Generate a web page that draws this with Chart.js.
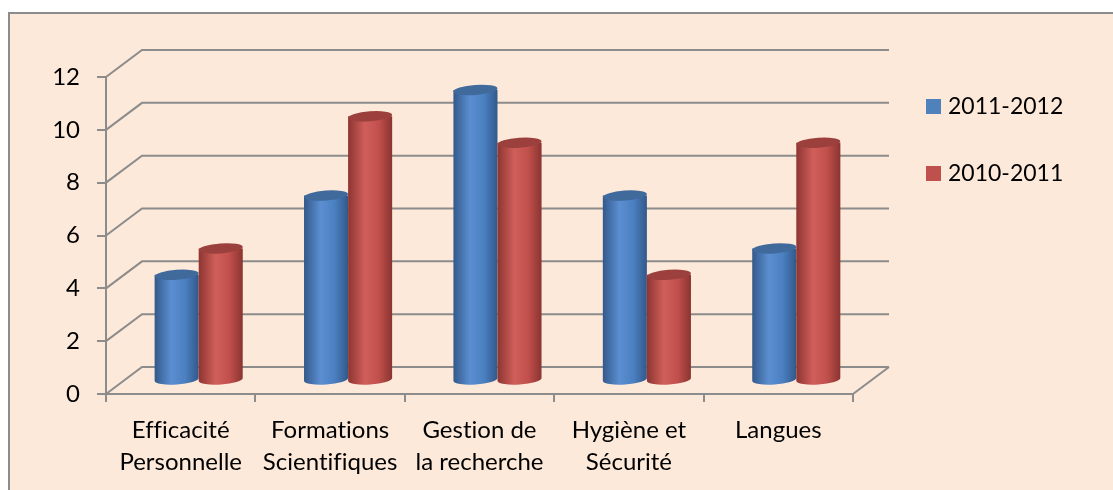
<!DOCTYPE html>
<html>
<head>
<meta charset="utf-8">
<script src="https://cdn.jsdelivr.net/npm/chart.js@4"></script>
<style>
  body { margin: 0; background: #fff; }
  #chart { display: block; }
</style>
</head>
<body>
<canvas id="chart" width="1113" height="490"></canvas>
<script>
// donnees
const categories = [
  ["Efficacité", "Personnelle"],
  ["Formations", "Scientifiques"],
  ["Gestion de", "la recherche"],
  ["Hygiène et", "Sécurité"],
  ["Langues"],
];
const serie2011 = [4, 7, 11, 7, 5];
const serie2010 = [5, 10, 9, 4, 9];
const seriesLabels = ["2011-2012", "2010-2011"];

const GRIS = "#8c8c8c";
const FOND = "#fde9d9";
const POLICE = "Lato, 'Open Sans', sans-serif";
// decalage de profondeur (mur du fond)
const DX = 36;
const DY = -27;

const couleurs = [
  { face: "#4f81bd", dessus: "#40699c", g: ["#34598a", "#5b8fd2", "#4a7fc0", "#33588a"] },
  { face: "#c0504d", dessus: "#9c403d", g: ["#8e3532", "#d05e5a", "#c14f4b", "#8a3431"] },
];

// fond + bordure du cadre
const cadre = {
  id: "cadre",
  beforeDraw(chart) {
    const ctx = chart.ctx;
    // pas de ligatures "ti" comme dans l'original
    ctx.textRendering = "optimizeSpeed";
    ctx.save();
    ctx.fillStyle = FOND;
    ctx.fillRect(9, 13, chart.width, chart.height);
    ctx.strokeStyle = GRIS;
    ctx.lineWidth = 2;
    ctx.beginPath();
    ctx.moveTo(9, chart.height + 5);
    ctx.lineTo(9, 13);
    ctx.lineTo(chart.width + 5, 13);
    ctx.stroke();
    ctx.restore();
  },
};

// mur du fond, cote gauche et sol
const murs = {
  id: "murs",
  beforeDatasetsDraw(chart) {
    const ctx = chart.ctx;
    const y = chart.scales.y;
    const a = chart.chartArea;
    ctx.save();
    ctx.strokeStyle = GRIS;
    ctx.lineWidth = 2;
    y.ticks.forEach((t) => {
      const py = y.getPixelForValue(t.value);
      ctx.beginPath();
      ctx.moveTo(a.left, py);
      ctx.lineTo(a.left + DX, py + DY);
      ctx.lineTo(a.right + DX, py + DY);
      ctx.stroke();
    });
    ctx.beginPath();
    ctx.moveTo(a.right, a.bottom);
    ctx.lineTo(a.right + DX, a.bottom + DY);
    ctx.stroke();
    ctx.restore();
  },
  beforeDatasetDraw() {
    return false; // on dessine les cylindres nous-memes
  },
};

function cylindre(ctx, el, c) {
  const cx = el.x + DX / 2;
  const top = el.y + DY / 2;
  const bot = el.base + DY / 2;
  const rx = el.width / 2;
  const ry = 5;
  const rot = -0.07;
  const grad = ctx.createLinearGradient(cx - rx, 0, cx + rx, 0);
  grad.addColorStop(0, c.g[0]);
  grad.addColorStop(0.38, c.g[1]);
  grad.addColorStop(0.7, c.g[2]);
  grad.addColorStop(1, c.g[3]);
  ctx.beginPath();
  ctx.moveTo(cx - rx, top);
  ctx.lineTo(cx - rx, bot);
  ctx.ellipse(cx, bot, rx, ry, rot, Math.PI, 0, true);
  ctx.lineTo(cx + rx, top);
  ctx.closePath();
  ctx.fillStyle = grad;
  ctx.fill();
  ctx.beginPath();
  ctx.ellipse(cx, top, rx, ry, rot, 0, Math.PI * 2);
  ctx.fillStyle = c.dessus;
  ctx.fill();
}

const cylindres = {
  id: "cylindres",
  afterDatasetsDraw(chart) {
    const ctx = chart.ctx;
    ctx.save();
    categories.forEach((_, i) => {
      chart.data.datasets.forEach((ds, d) => {
        const el = chart.getDatasetMeta(d).data[i];
        cylindre(ctx, el, couleurs[d]);
      });
    });
    ctx.restore();
  },
};

const legende = {
  id: "legende",
  afterDraw(chart) {
    const ctx = chart.ctx;
    ctx.save();
    ctx.font = "23px " + POLICE;
    ctx.textBaseline = "middle";
    chart.data.datasets.forEach((ds, d) => {
      const y0 = 99 + d * 67;
      ctx.fillStyle = couleurs[d].face;
      ctx.fillRect(926, y0, 15, 15);
      ctx.fillStyle = "#000";
      ctx.fillText(ds.label, 948, y0 + 8);
    });
    ctx.restore();
  },
};

new Chart(document.getElementById("chart"), {
  type: "bar",
  data: {
    labels: categories,
    datasets: [
      { label: seriesLabels[0], data: serie2011, backgroundColor: couleurs[0].face },
      { label: seriesLabels[1], data: serie2010, backgroundColor: couleurs[1].face },
    ],
  },
  options: {
    responsive: false,
    animation: false,
    events: [],
    layout: { padding: { left: 0, top: 77, right: 260, bottom: 0 } },
    datasets: { bar: { categoryPercentage: 0.59, barPercentage: 1 } },
    plugins: { legend: { display: false }, tooltip: { enabled: false } },
    scales: {
      x: {
        offset: true,
        grid: { offset: true, drawOnChartArea: false, tickLength: 8, color: GRIS, lineWidth: 2 },
        border: { color: GRIS, width: 2 },
        ticks: { color: "#000", padding: 12, maxRotation: 0, font: { family: POLICE, size: 24, lineHeight: 1.34 } },
        afterFit: (s) => { s.height = 96; },
      },
      y: {
        min: 0,
        max: 12,
        grid: { drawOnChartArea: false, tickLength: 9, color: GRIS, lineWidth: 2 },
        border: { color: GRIS, width: 2 },
        ticks: { stepSize: 2, color: "#000", padding: 17, font: { family: POLICE, size: 24 } },
        afterFit: (s) => { s.width = 106; },
      },
    },
  },
  plugins: [cadre, murs, cylindres, legende],
});
</script>
</body>
</html>
